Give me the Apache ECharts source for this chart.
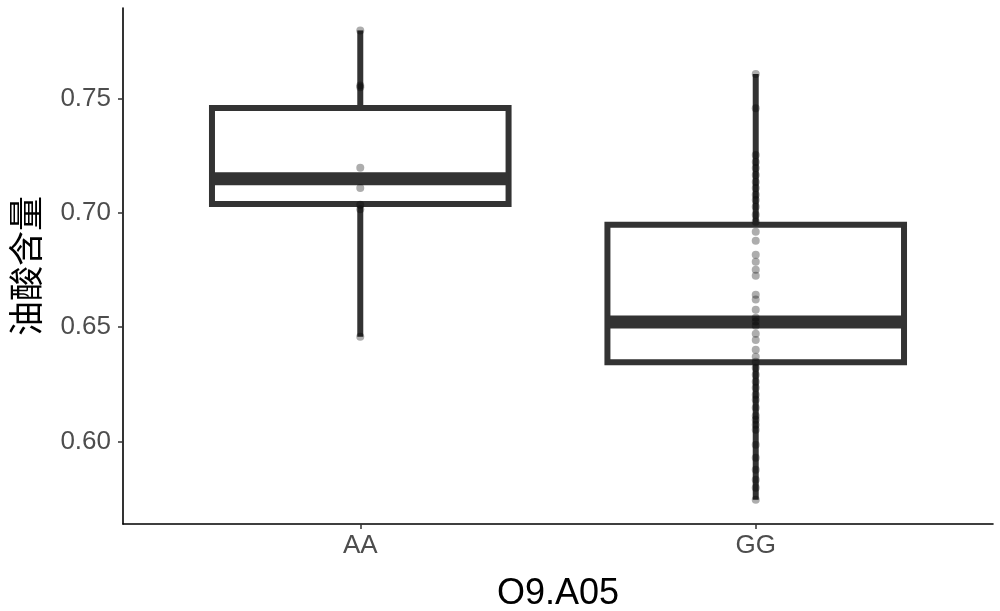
<!DOCTYPE html>
<html>
<head>
<meta charset="utf-8">
<script src="https://cdn.jsdelivr.net/npm/echarts@6/dist/echarts.min.js"></script>
<style>html,body{margin:0;padding:0;background:#fff}#c{width:1000px;height:611px}</style>
</head>
<body>
<div id="c"></div>
<script>
var categories = ['AA', 'GG'];
// [min(whisker), Q1, median, Q3, max(whisker)]
var statsAA = [0.6458, 0.7038, 0.7149, 0.7458, 0.7797];
var statsGG = [0.5745, 0.6346, 0.6522, 0.6947, 0.7606];
var pointsAA = [0.7797, 0.7556, 0.7548, 0.7197, 0.7108, 0.7035, 0.7015, 0.6458];
var pointsGG = [0.7606, 0.7457, 0.7252, 0.7222, 0.7195, 0.7165, 0.7134, 0.7108, 0.7078, 0.7056,
  0.7026, 0.6991, 0.6960, 0.6917, 0.6877, 0.6816, 0.6786, 0.6751, 0.6724, 0.6641, 0.6620,
  0.6576, 0.6541, 0.6524, 0.6506, 0.6471, 0.6444, 0.6401, 0.6370, 0.6348, 0.6322, 0.6292,
  0.6261, 0.6235, 0.6204, 0.6182, 0.6147, 0.6112, 0.6095, 0.6073, 0.6051, 0.5986, 0.5929,
  0.5876, 0.5833, 0.5798, 0.5745];
var yTicks = [0.60, 0.65, 0.70, 0.75];

var allStats = [statsAA, statsGG];
var allPoints = [pointsAA, pointsGG];
var boxData = allStats.map(function (s, i) { return [i + 1].concat(s); });
var scatterData = [];
allPoints.forEach(function (arr, i) { arr.forEach(function (v) { scatterData.push([i + 1, v]); }); });

var halfW = 0.375;
var lineColor = '#333333';

var chart = echarts.init(document.getElementById('c'), null, {renderer: 'canvas'});
chart.setOption({
  animation: false,
  grid: {left: 123, right: 7, top: 8, bottom: 87, containLabel: false, outerBoundsMode: 'none'},
  xAxis: {
    type: 'value', min: 0.4, max: 2.6,
    name: 'O9.A05', nameLocation: 'middle', nameGap: 52,
    nameTextStyle: {fontSize: 36, color: '#000', fontFamily: 'Liberation Sans, Arial, sans-serif'},
    axisLine: {show: true, lineStyle: {color: '#000', width: 1.6}},
    axisTick: {show: true, customValues: [1, 2], length: 5, lineStyle: {color: '#333', width: 1.5}},
    axisLabel: {customValues: [1, 2], margin: 9, fontSize: 26, color: '#4d4d4d',
      fontFamily: 'Liberation Sans, Arial, sans-serif',
      formatter: function (v) { return categories[Math.round(v) - 1] || ''; }},
    splitLine: {show: false}
  },
  yAxis: {
    type: 'value', min: 0.5639, max: 0.7895,
    name: '油酸含量', nameLocation: 'middle', nameGap: 80, nameRotate: 90,
    nameTextStyle: {fontSize: 35, color: '#000', fontFamily: 'Noto Sans CJK SC, sans-serif'},
    axisLine: {show: true, lineStyle: {color: '#000', width: 1.6}},
    axisTick: {show: true, customValues: yTicks, length: 5, lineStyle: {color: '#333', width: 1.5}},
    axisLabel: {customValues: yTicks, margin: 12, fontSize: 26, color: '#4d4d4d',
      fontFamily: 'Liberation Sans, Arial, sans-serif',
      formatter: function (v) { return v.toFixed(2); }},
    splitLine: {show: false}
  },
  series: [
    {
      type: 'custom',
      data: boxData,
      encode: {x: 0, y: [1, 2, 3, 4, 5]},
      renderItem: function (params, api) {
        var x = api.value(0);
        var lo = api.coord([x, api.value(1)]);
        var q1 = api.coord([x - halfW, api.value(2)]);
        var med = api.coord([x - halfW, api.value(3)]);
        var q3 = api.coord([x - halfW, api.value(4)]);
        var hi = api.coord([x, api.value(5)]);
        var right = api.coord([x + halfW, api.value(3)])[0];
        return {
          type: 'group',
          children: [
            {type: 'line', shape: {x1: hi[0], y1: hi[1], x2: hi[0], y2: q3[1]}, style: {stroke: lineColor, lineWidth: 6}},
            {type: 'line', shape: {x1: lo[0], y1: q1[1], x2: lo[0], y2: lo[1]}, style: {stroke: lineColor, lineWidth: 6}},
            {type: 'rect', shape: {x: q1[0], y: q3[1], width: right - q1[0], height: q1[1] - q3[1]}, style: {stroke: lineColor, lineWidth: 6, fill: '#fff', lineJoin: 'miter'}},
            {type: 'line', shape: {x1: q1[0], y1: med[1], x2: right, y2: med[1]}, style: {stroke: lineColor, lineWidth: 13}}
          ]
        };
      },
      z: 2
    },
    {
      type: 'scatter',
      data: scatterData,
      symbolSize: 8,
      itemStyle: {color: 'rgba(0,0,0,0.4)'},
      z: 3
    }
  ]
});
</script>
</body>
</html>
